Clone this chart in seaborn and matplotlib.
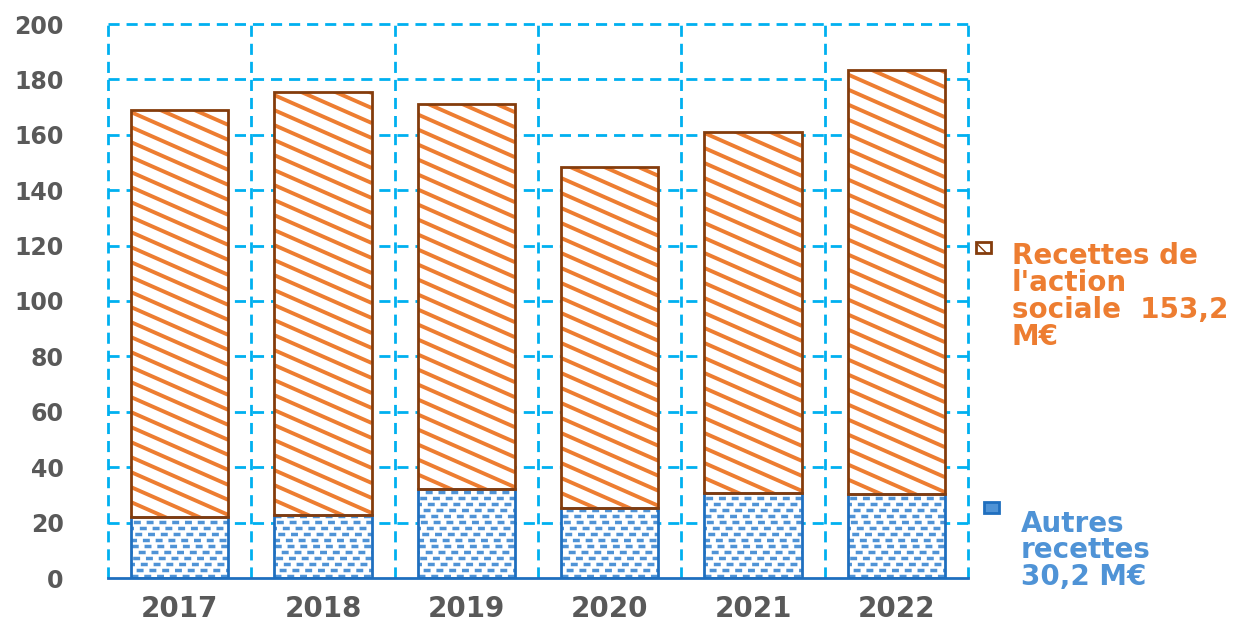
import matplotlib
matplotlib.use("Agg")
import matplotlib.pyplot as plt
import seaborn as sns
import pandas as pd
from matplotlib.patches import Rectangle
from matplotlib.collections import LineCollection

years = ["2017", "2018", "2019", "2020", "2021", "2022"]
autres = [22.0, 22.7, 32.0, 25.3, 30.7, 30.2]
action_sociale = [147.0, 152.8, 139.0, 123.1, 130.3, 153.2]
yticks = [0, 20, 40, 60, 80, 100, 120, 140, 160, 180, 200]
label_action = "Recettes de\nl'action\nsociale  153,2\nM€"
label_autres = "Autres\nrecettes\n30,2 M€"

ORANGE = "#ED7D31"
BROWN = "#843C0C"
BLUE = "#4F93D6"
DBLUE = "#1F6FBF"
GRID = "#00B0F0"
GRAY = "#595959"

sns.set_theme(style="white")
plt.rcParams["font.family"] = ["DejaVu Sans"]
plt.rcParams["lines.scale_dashes"] = False

df = pd.DataFrame({"year": years, "autres": autres, "action": action_sociale})

fig = plt.figure(figsize=(12.52, 6.21), dpi=100)
ax = fig.add_axes([108/1252, 1-578/621, (968-108)/1252, (578-24)/621])

sns.barplot(data=df, x="year", y="autres", color="white", linewidth=0,
            width=0.68, ax=ax, zorder=3)
n1 = len(ax.patches)
sns.barplot(data=df, x="year", y="action", bottom=df["autres"], color="white",
            linewidth=0, width=0.68, ax=ax, zorder=3)

ax.set_ylim(0, 200)
ax.set_xlim(-0.5, len(years) - 0.5)

# pixel scales
p0 = ax.transData.transform((0, 0))
p1 = ax.transData.transform((1, 1))
pxx = p1[0] - p0[0]
pxy = p1[1] - p0[1]

bars = list(ax.patches)
for i, p in enumerate(bars):
    x0, y0 = p.get_xy()
    w, h = p.get_width(), p.get_height()
    if i >= n1:
        # diagonal stripes, shallow angle
        s = 0.44 * pxx / pxy
        step = 15.0 / pxy
        segs = []
        c = y0
        while c < y0 + h + s * w + step:
            segs.append([(x0, c), (x0 + w, c - s * w)])
            c += step
        lc = LineCollection(segs, colors=ORANGE, linewidths=2.8, zorder=4)
        ax.add_collection(lc)
        lc.set_clip_path(p)
        ec = BROWN
    else:
        # small brick-like dashes
        step = 6.0 / pxy
        offs = [0, 5.5, 2.5, 8, 4, 9, 1, 6.5, 3.2, 7.5]
        yy = y0 + 2.5 / pxy
        k = 0
        while yy < y0 + h:
            lc = LineCollection([[(x0, yy), (x0 + w, yy)]], colors=BLUE,
                                linewidths=2.5, zorder=4,
                                linestyles=[(offs[k % len(offs)], (5.0, 4.2))])
            ax.add_collection(lc)
            lc.set_clip_path(p)
            yy += step
            k += 1
        ec = DBLUE
    ax.add_patch(Rectangle((x0, y0), w, h, fill=False, edgecolor=ec,
                           linewidth=2, zorder=5))

ax.set_yticks(yticks)
ax.set_xticks(range(len(years)))
ax.set_xticklabels(years)
ax.set_xlabel("")
ax.set_ylabel("")

for y in yticks[1:]:
    ax.axhline(y, color=GRID, linestyle=(0, (8, 5)), linewidth=2, zorder=1, clip_on=False)
for b in [i - 0.5 for i in range(len(years) + 1)]:
    ax.axvline(b, color=GRID, linestyle=(0, (8, 5)), linewidth=2, zorder=1, clip_on=False)

for s_ in ["top", "right", "left"]:
    ax.spines[s_].set_visible(False)
ax.spines["bottom"].set_color(DBLUE)
ax.spines["bottom"].set_linewidth(2)
ax.spines["bottom"].set_zorder(6)

ax.tick_params(axis="y", length=0, pad=32, labelsize=17, labelcolor=GRAY)
ax.tick_params(axis="x", length=0, pad=12, labelsize=20, labelcolor=GRAY)
for t in ax.get_yticklabels() + ax.get_xticklabels():
    t.set_fontweight("bold")

# legend
fig.patches.append(Rectangle((976/1252, 1-253/621), 15/1252, 11/621, transform=fig.transFigure,
                             facecolor="white", edgecolor=BROWN, hatch="\\\\", linewidth=2))
fig.text(1012/1252, 1-242/621, label_action, color=ORANGE, fontsize=20, fontweight="bold",
         va="top", ha="left", linespacing=0.95)
fig.patches.append(Rectangle((984/1252, 1-513/621), 15/1252, 11/621, transform=fig.transFigure,
                             facecolor=BLUE, edgecolor=DBLUE, linewidth=2))
fig.text(1021/1252, 1-510/621, label_autres, color=BLUE, fontsize=20, fontweight="bold",
         va="top", ha="left", linespacing=0.93)

fig.savefig("out.png", dpi=100)
